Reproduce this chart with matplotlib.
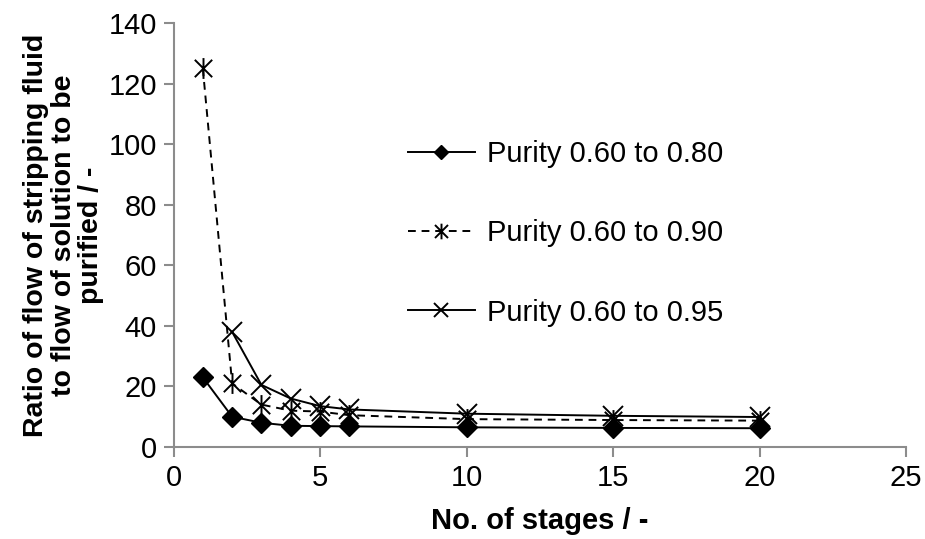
import matplotlib
matplotlib.use("Agg")
import matplotlib.pyplot as plt
from matplotlib.path import Path

plt.rcParams['font.family'] = ['Liberation Sans', 'DejaVu Sans']

# Data: ratio of stripping-fluid flow to feed flow vs. number of stages
stages_080 = [1, 2, 3, 4, 5, 6, 10, 15, 20]
ratio_080 = [23.0, 10.0, 8.0, 7.0, 6.9, 6.8, 6.5, 6.3, 6.2]

stages_090 = [1, 2, 3, 4, 5, 6, 10, 15, 20]
ratio_090 = [125.0, 21.0, 14.0, 12.0, 11.7, 10.5, 9.2, 8.9, 8.7]

stages_095 = [2, 3, 4, 5, 6, 10, 15, 20]
ratio_095 = [38.0, 20.5, 16.0, 13.5, 12.4, 11.0, 10.3, 9.9]

series_labels = ["Purity 0.60 to 0.80", "Purity 0.60 to 0.90", "Purity 0.60 to 0.95"]
x_ticks = [0, 5, 10, 15, 20, 25]
y_ticks = [0, 20, 40, 60, 80, 100, 120, 140]

# Asterisk marker: an "x" with a vertical stroke through it
asterisk = Path(
    [(-0.5, -0.5), (0.5, 0.5), (-0.5, 0.5), (0.5, -0.5), (0.0, -0.6), (0.0, 0.6)],
    [Path.MOVETO, Path.LINETO, Path.MOVETO, Path.LINETO, Path.MOVETO, Path.LINETO],
)

FS = 21

fig = plt.figure(figsize=(9.25, 5.39), dpi=100)
ax = fig.add_axes([0.1876, 0.1707, 0.7919, 0.7866])

ax.plot(stages_080, ratio_080, color='black', lw=1.4, ls='-',
        marker='D', ms=10, mfc='black', mec='black', label=series_labels[0])
ax.plot(stages_090, ratio_090, color='black', lw=1.4, ls=(0, (4, 3)),
        marker=asterisk, ms=15, mfc='none', mec='black', mew=1.4, label=series_labels[1])
ax.plot(stages_095, ratio_095, color='black', lw=1.4, ls='-',
        marker='x', ms=14, mec='black', mew=1.4, label=series_labels[2])

ax.set_xlim(0, 25)
ax.set_ylim(0, 140)
ax.set_xticks(x_ticks)
ax.set_yticks(y_ticks)

for side in ('top', 'right'):
    ax.spines[side].set_visible(False)
for side in ('left', 'bottom'):
    ax.spines[side].set_color('#8c8c8c')
    ax.spines[side].set_linewidth(1.5)

ax.tick_params(axis='both', direction='out', length=7, width=1.5,
               color='#8c8c8c', labelsize=FS, labelcolor='black', pad=5)

ax.set_xlabel("No. of stages / -", fontsize=FS, fontweight='bold', labelpad=11)
ax.set_ylabel("Ratio of flow of stripping fluid\nto flow of solution to be\npurified / -",
              fontsize=20.5, fontweight='bold', labelpad=3, linespacing=1.08)

leg = ax.legend(loc='upper left', bbox_to_anchor=(0.3205, 0.724), frameon=False,
                fontsize=FS, handlelength=2.27, handletextpad=0.42,
                labelspacing=1.76, borderpad=0, borderaxespad=0, markerscale=0.75)

fig.savefig("out.png", dpi=100)
